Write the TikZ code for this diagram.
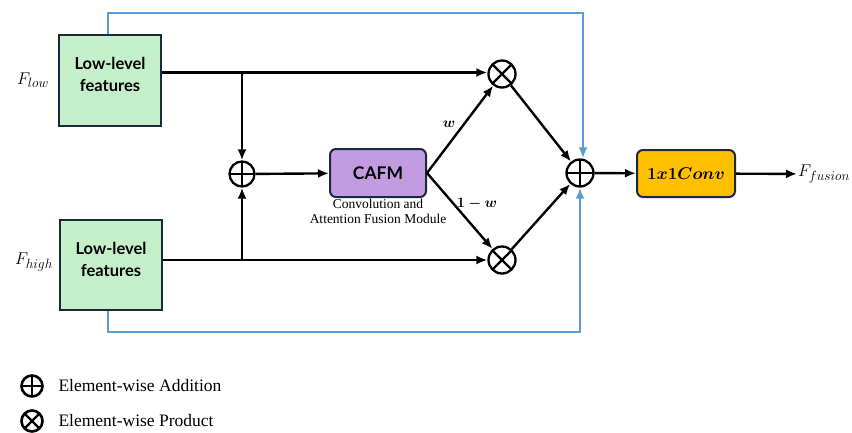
\RequirePackage{fix-cm}
\documentclass[tikz,border=0pt]{standalone}
\usepackage{amsmath,bm}
\usepackage{fontspec}
\usetikzlibrary{arrows.meta,calc}
\newfontfamily\boxfont{Lato}
\newfontfamily\legendfont{Liberation Serif}
\DeclareMathSizes{17}{17}{13.5}{10}

\definecolor{featgreen}{HTML}{C4EFC9}
\definecolor{boxedge}{HTML}{1B2A3A}
\definecolor{cafmfill}{HTML}{C39BE0}
\definecolor{convfill}{HTML}{FFC000}
\definecolor{skipblue}{HTML}{5B9BD5}

\begin{document}
\begin{tikzpicture}[x=1pt,y=-1pt,
  featbox/.style={draw=boxedge, fill=featgreen, line width=2pt,
    minimum width=102pt, minimum height=91pt, inner sep=0pt},
  boxtext/.style={font=\boxfont\bfseries\fontsize{16.5}{22}\selectfont, align=center},
  modbox/.style={draw=boxedge, line width=2pt, rounded corners=6pt,
    minimum width=96pt, minimum height=48pt, inner sep=0pt},
  opnode/.style={circle, draw=black, line width=2.3pt, minimum size=#1, inner sep=0pt},
  sumop/.style={opnode=#1, path picture={
      \draw[line width=2.3pt] (path picture bounding box.north) -- (path picture bounding box.south)
        (path picture bounding box.west) -- (path picture bounding box.east);}},
  prodop/.style={opnode=#1, path picture={
      \draw[line width=2.3pt] (path picture bounding box.north west) -- (path picture bounding box.south east)
        (path picture bounding box.north east) -- (path picture bounding box.south west);}},
  flow/.style={draw=black, line width=2.4pt, -{Latex[length=11pt,width=9pt]}},
  skip/.style={draw=skipblue, line width=2.8pt},
  skiparrow/.style={skip, -{Latex[length=11pt,width=9pt]}},
  mathlbl/.style={font=\fontsize{17}{20}\selectfont},
  wlabel/.style={font=\fontsize{14.5}{18}\selectfont},
  legendtext/.style={font=\legendfont\fontsize{17.5}{20}\selectfont, anchor=west},
]
\useasboundingbox (0,0) rectangle (852,432);

% feature boxes
\node[featbox] (lowbox) at (110,80.5) {};
\node[boxtext] (lowtxt) at (110,74) {Low-level\\features};
\node[featbox, minimum height=90pt] (highbox) at (111,265) {};
\node[boxtext] (hightxt) at (111,259) {Low-level\\features};

\node[mathlbl] (flow) at (33,80) {$F_{low}$};
\node[mathlbl] (fhigh) at (34,262) {$F_{high}$};

% operators
\node[sumop=25pt] (addL) at (242,174) {};
\node[prodop=27pt] (prodT) at (502,74) {};
\node[prodop=27pt] (prodB) at (502,260) {};
\node[sumop=27pt] (addR) at (580,173) {};

% modules
\node[modbox, fill=cafmfill, font=\boxfont\bfseries\fontsize{17.5}{20}\selectfont] (cafm) at (378,173) {CAFM};
\node[font=\legendfont\fontsize{13.5}{15}\selectfont, align=center, anchor=north] (cafmcap) at (378,196)
  {Convolution and\\Attention Fusion Module};
\node[modbox, fill=convfill, minimum width=98pt, minimum height=47pt,
  font=\fontsize{17}{20}\selectfont] (conv) at (686,173.5) {$\bm{1x1Conv}$};
\node[mathlbl, anchor=west, inner sep=1pt] (ffusion) at (797,174) {$F_{fusion}$};

% weight labels
\node[wlabel] (wlbl) at (449,124) {$\bm{w}$};
\node[wlabel] (wclbl) at (477,204) {$\bm{1-w}$};

% routing points
\coordinate (lowout) at (lowbox.east |- 0,72.5);
\coordinate (highout) at (highbox.east |- 0,260);
\coordinate (splitT) at (242,72.5);
\coordinate (splitB) at (242,260);

% main paths
\draw[flow] (lowout) -- (prodT.west |- lowout);
\draw[flow] (highout) -- (prodB.west |- highout);
\draw[flow] (splitT) -- (addL.north);
\draw[flow] (splitB) -- (addL.south);
\draw[flow] (addL) -- (cafm);
\draw[flow] (cafm.east) -- (prodT);
\draw[flow] (cafm.east) -- (prodB);
\draw[flow] (prodT) -- (addR);
\draw[flow] (prodB) -- (addR);
\draw[flow] (addR) -- (conv);
\draw[flow] (conv) -- (ffusion);

% skip connections
\coordinate (skipTa) at (108,13);
\coordinate (skipTb) at (583,13);
\coordinate (skipBa) at (108,332);
\coordinate (skipBb) at (580,332);
\draw[skiparrow] (lowbox.north -| skipTa) -- (skipTa) -- (skipTb) -- (skipTb |- addR.north);
\draw[skiparrow] (highbox.south -| skipBa) -- (skipBa) -- (skipBb) -- (addR.south);

% legend
\node[sumop=21pt, line width=2.6pt] (legadd) at (32,386) {};
\node[prodop=21pt, line width=2.6pt] (legprod) at (32,421) {};
\node[legendtext] (legaddtxt) at (55,386) {Element-wise Addition};
\node[legendtext] (legprodtxt) at (55,421) {Element-wise Product};
\end{tikzpicture}
\end{document}
